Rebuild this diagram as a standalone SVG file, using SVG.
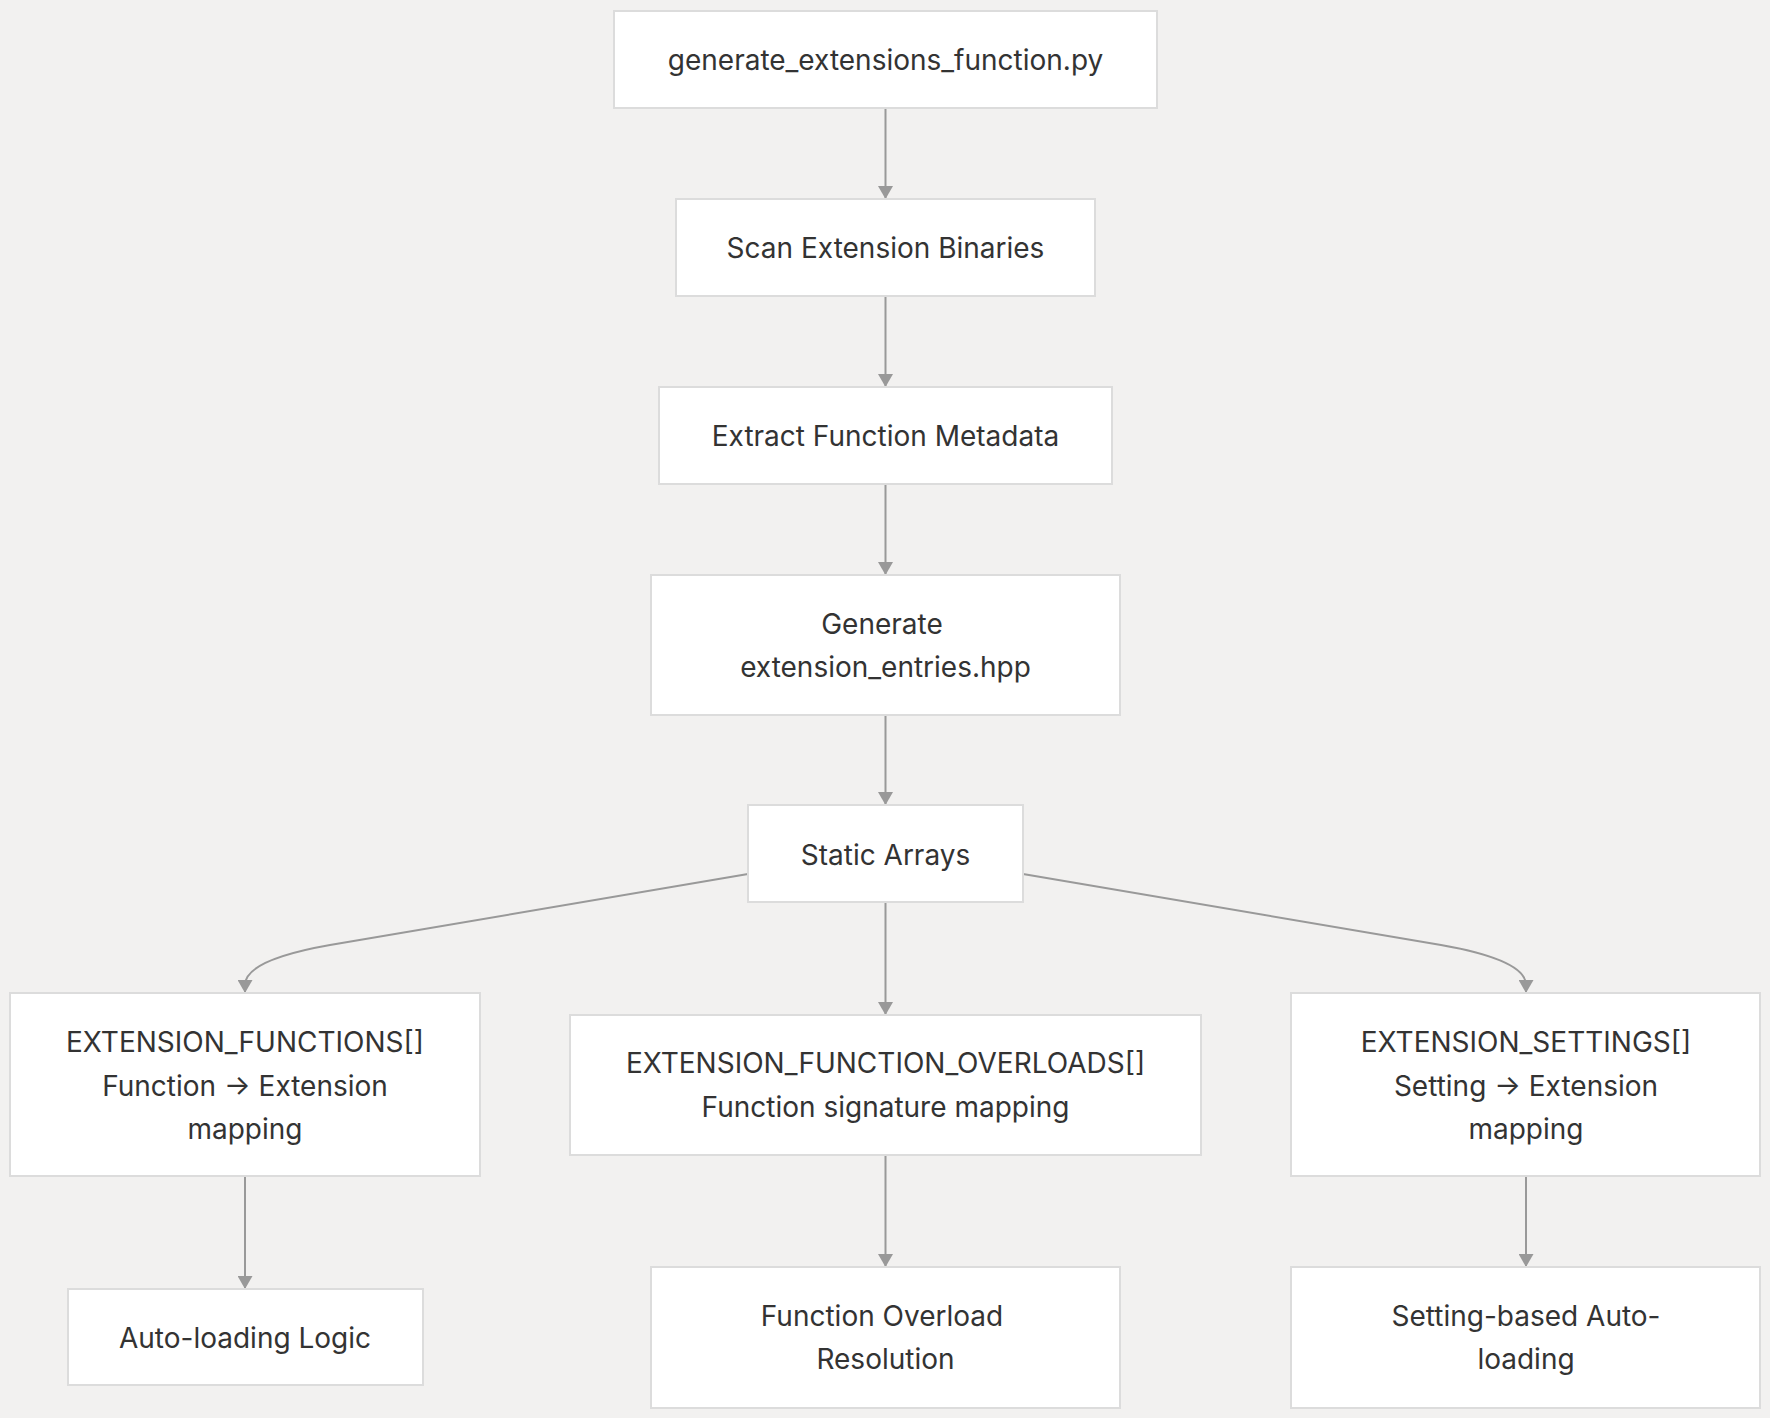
<svg xmlns="http://www.w3.org/2000/svg" width="1770" height="1418" viewBox="0 0 1770 1418">
<defs>
<style>
.node rect{fill:#ffffff;stroke:#dcdcdc;stroke-width:2}
.node text{font-family:Inter,"Liberation Sans",sans-serif;font-size:28px;fill:#333333;text-anchor:middle;dominant-baseline:central}
.edge{fill:none;stroke:#999999;stroke-width:2}
</style>
<marker id="arrow" viewBox="0 0 13 15" refX="13" refY="7.5" markerWidth="13" markerHeight="15" markerUnits="userSpaceOnUse" orient="auto">
<path d="M0,0 L13,7.5 L0,15 z" fill="#999999"/>
</marker>
</defs>
<rect width="1770" height="1418" fill="#f2f1f0"/>
<g id="connectors">
<path class="edge" marker-end="url(#arrow)" d="M885.5,108 L885.5,199"/>
<path class="edge" marker-end="url(#arrow)" d="M885.5,296 L885.5,387"/>
<path class="edge" marker-end="url(#arrow)" d="M885.5,484 L885.5,575"/>
<path class="edge" marker-end="url(#arrow)" d="M885.5,715 L885.5,805"/>
<path class="edge" marker-end="url(#arrow)" d="M885.5,902 L885.5,1015"/>
<path class="edge" marker-end="url(#arrow)" d="M748,874 L330,945 Q245,960 245,985 L245,993"/>
<path class="edge" marker-end="url(#arrow)" d="M1023,874 L1441,945 Q1526,960 1526,985 L1526,993"/>
<path class="edge" marker-end="url(#arrow)" d="M245,1176 L245,1289"/>
<path class="edge" marker-end="url(#arrow)" d="M885.5,1155 L885.5,1267"/>
<path class="edge" marker-end="url(#arrow)" d="M1526,1176 L1526,1267"/>
</g>
<g id="n1" class="node"><rect x="614" y="11" width="543" height="97"/><text x="885.5" y="60">generate_extensions_function.py</text></g>
<g id="n2" class="node"><rect x="676" y="199" width="419" height="97"/><text x="885.5" y="248">Scan Extension Binaries</text></g>
<g id="n3" class="node"><rect x="659" y="387" width="453" height="97"/><text x="885.5" y="436">Extract Function Metadata</text></g>
<g id="n4" class="node"><rect x="651" y="575" width="469" height="140"/><text x="882" y="624">Generate</text><text x="885.5" y="667">extension_entries.hpp</text></g>
<g id="n5" class="node"><rect x="748" y="805" width="275" height="97"/><text x="885.5" y="855">Static Arrays</text></g>
<g id="n6" class="node"><rect x="10" y="993" width="470" height="183"/><text x="245" y="1042">EXTENSION_FUNCTIONS[]</text><text x="245" y="1086">Function → Extension</text><text x="245" y="1129">mapping</text></g>
<g id="n7" class="node"><rect x="570" y="1015" width="631" height="140"/><text x="885.5" y="1063">EXTENSION_FUNCTION_OVERLOADS[]</text><text x="885.5" y="1107">Function signature mapping</text></g>
<g id="n8" class="node"><rect x="1291" y="993" width="469" height="183"/><text x="1526" y="1042">EXTENSION_SETTINGS[]</text><text x="1526" y="1086">Setting → Extension</text><text x="1526" y="1129">mapping</text></g>
<g id="n9" class="node"><rect x="68" y="1289" width="355" height="96"/><text x="245" y="1338">Auto-loading Logic</text></g>
<g id="n10" class="node"><rect x="651" y="1267" width="469" height="141"/><text x="882" y="1316">Function Overload</text><text x="885.5" y="1359">Resolution</text></g>
<g id="n11" class="node"><rect x="1291" y="1267" width="469" height="141"/><text x="1526" y="1316">Setting-based Auto-</text><text x="1526" y="1359">loading</text></g>
</svg>
